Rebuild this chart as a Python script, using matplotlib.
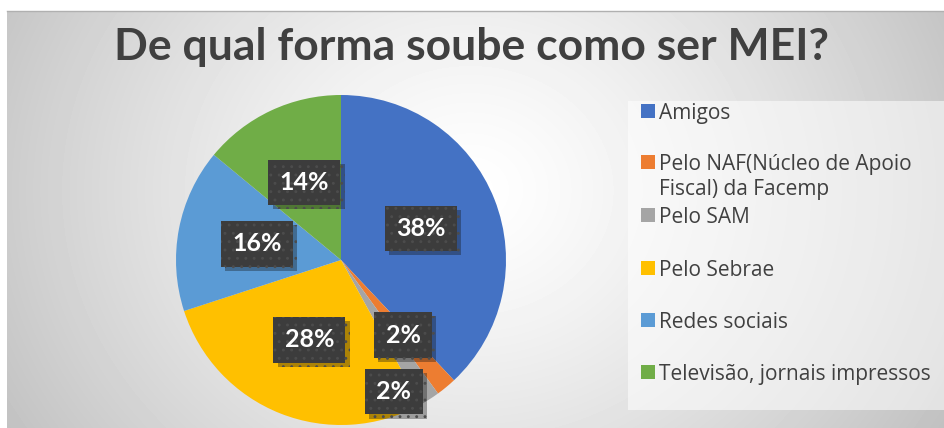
import numpy as np
import matplotlib
matplotlib.use("Agg")
import matplotlib.pyplot as plt
import matplotlib.patheffects as pe
from matplotlib.patches import Rectangle

plt.rcParams['font.family'] = ['Lato', 'DejaVu Sans']
plt.rcParams['hatch.linewidth'] = 0.9

title = "De qual forma soube como ser MEI?"
categories = ["Amigos",
              "Pelo NAF(Núcleo de Apoio\nFiscal) da Facemp",
              "Pelo SAM",
              "Pelo Sebrae",
              "Redes sociais",
              "Televisão, jornais impressos"]
values = [38, 2, 2, 28, 16, 14]
colors = ["#4472C4", "#ED7D31", "#A5A5A5", "#FFC000", "#5B9BD5", "#70AD47"]

W, H = 944, 428
fig = plt.figure(figsize=(W / 100, H / 100), dpi=100)
fig.patch.set_facecolor("white")

# radial grey background of the chart area
bg = fig.add_axes([7 / W, 0, 1 - 7 / W, 1 - 11 / H])
bg.set_axis_off()
yy, xx = np.mgrid[11:H, 7:W]
d = np.sqrt((xx - 470.0) ** 2 + ((yy - 190.0) * 1.15) ** 2) / 520.0
shade = np.clip(1 - 0.23 * d ** 1.3, 0, 1)
bg.imshow(shade, cmap="gray", vmin=0, vmax=1, aspect="auto", interpolation="bilinear")
fig.add_artist(plt.Line2D([7 / W, 1], [1 - 11 / H, 1 - 11 / H], color="#b0b0b0", lw=1))

fig.text(0.5, 1 - 47 / H, title, ha="center", va="center", fontsize=32,
         fontweight="bold", color="#404040")

# pie
r = 165
cx, cy = 341, H - 260
ax = fig.add_axes([(cx - r) / W, (cy - r) / H, 2 * r / W, 2 * r / H])
wedges, _ = ax.pie(values, colors=colors, startangle=90, counterclock=False,
                   radius=1, wedgeprops=dict(linewidth=0))
ax.set_xlim(-1, 1)
ax.set_ylim(-1, 1)
ax.set_aspect("auto")
ax.set_axis_off()

tweaks = {1: (0.59, 0), 2: (0.86, -10.5)}
for i, w in enumerate(wedges):
    ang = (w.theta1 + w.theta2) / 2
    dist, shift = tweaks.get(i, (0.52, 0))
    a = np.deg2rad(ang + shift)
    t = ax.text(dist * np.cos(a), dist * np.sin(a), "%d%%" % values[i],
                ha="center", va="center", fontsize=18, fontweight="bold",
                color="white", zorder=5,
                bbox=dict(boxstyle="square,pad=0.45", fc="#3c3c3c",
                          ec="#4c4c4c", lw=0, hatch=".."))
    t.get_bbox_patch().set_path_effects([pe.SimplePatchShadow(offset=(3, -3), alpha=0.35),
                                         pe.Normal()])

# legend
fig.add_artist(Rectangle((628 / W, 1 - 410 / H), 1 - 628 / W, 309 / H,
                         transform=fig.transFigure, fc="white", ec="none", alpha=0.55))
ys = [111, 162, 215, 268, 320, 372]
for lab, col, y in zip(categories, colors, ys):
    fig.add_artist(Rectangle((641 / W, 1 - (y + 7) / H), 14 / W, 14 / H,
                             transform=fig.transFigure, fc=col, ec="none"))
    fig.text(659 / W, 1 - (y - 8) / H, lab, ha="left", va="top", fontsize=15,
             family=["Open Sans", "DejaVu Sans"], color="#404040", linespacing=1.25)

fig.savefig("out.png", dpi=100)
